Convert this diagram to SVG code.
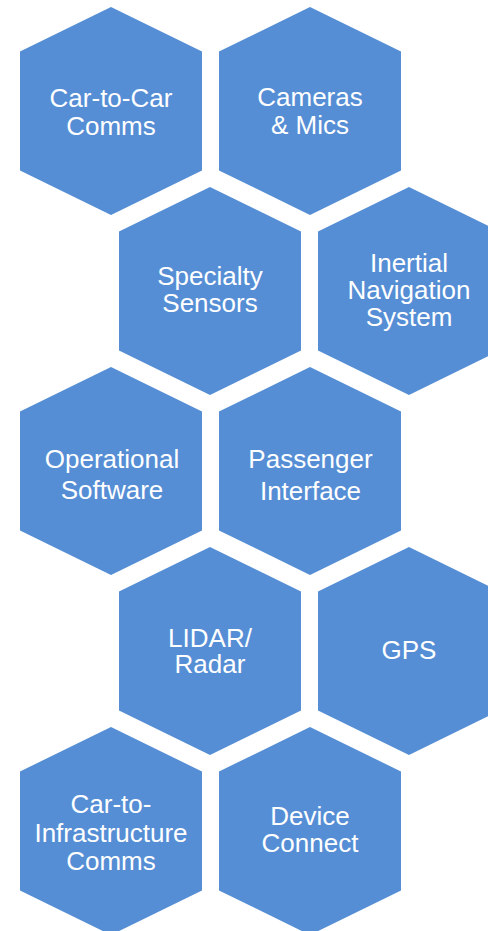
<svg xmlns="http://www.w3.org/2000/svg" xmlns:xlink="http://www.w3.org/1999/xlink" width="488" height="931" viewBox="0 0 488 931">
<defs>
<style>
.hex{fill:#558ED5;}
.t{fill:#FFFFFF;font-family:"Liberation Sans",Arial,sans-serif;font-size:26px;text-anchor:middle;}
</style>
<polygon id="hx" class="hex" points="0,-104 91,-59.5 91,59.5 0,104 -91,59.5 -91,-59.5"/>
</defs>
<rect width="488" height="931" fill="#FFFFFF"/>
<g id="connectors"/>
<g id="n1"><use xlink:href="#hx" href="#hx" x="111" y="111"/><text class="t" x="111" y="107">Car-to-Car</text><text class="t" x="111" y="135">Comms</text></g>
<g id="n2"><use xlink:href="#hx" href="#hx" x="310" y="111"/><text class="t" x="310" y="106">Cameras</text><text class="t" x="310" y="133.5">&amp; Mics</text></g>
<g id="n3"><use xlink:href="#hx" href="#hx" x="210" y="291"/><text class="t" x="210" y="285">Specialty</text><text class="t" x="210" y="312.3">Sensors</text></g>
<g id="n4"><use xlink:href="#hx" href="#hx" x="409" y="291"/><text class="t" x="409" y="271.7">Inertial</text><text class="t" x="409" y="298.5">Navigation</text><text class="t" x="409" y="325.7">System</text></g>
<g id="n5"><use xlink:href="#hx" href="#hx" x="111" y="471"/><text class="t" x="112" y="468.3">Operational</text><text class="t" x="112" y="499.3">Software</text></g>
<g id="n6"><use xlink:href="#hx" href="#hx" x="310" y="471"/><text class="t" x="310.5" y="468.3">Passenger</text><text class="t" x="310.5" y="499.5">Interface</text></g>
<g id="n7"><use xlink:href="#hx" href="#hx" x="210" y="651"/><text class="t" x="210" y="646.7">LIDAR/</text><text class="t" x="210" y="672.7">Radar</text></g>
<g id="n8"><use xlink:href="#hx" href="#hx" x="409" y="651"/><text class="t" x="409" y="659.3">GPS</text></g>
<g id="n9"><use xlink:href="#hx" href="#hx" x="111" y="831"/><text class="t" x="111" y="813.3">Car-to-</text><text class="t" x="111" y="841.7">Infrastructure</text><text class="t" x="111" y="870">Comms</text></g>
<g id="n10"><use xlink:href="#hx" href="#hx" x="310" y="831"/><text class="t" x="310" y="825">Device</text><text class="t" x="310" y="851.7">Connect</text></g>
</svg>
